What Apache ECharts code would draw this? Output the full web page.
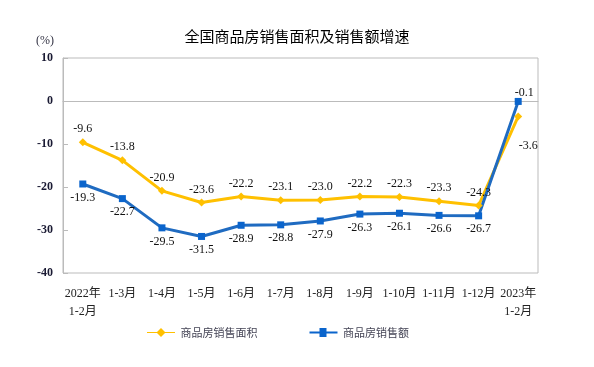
<!DOCTYPE html>
<html><head><meta charset="utf-8">
<script src="https://cdn.jsdelivr.net/npm/echarts@6/dist/echarts.min.js"></script>
<style>html,body{margin:0;padding:0;background:#fff}#c{width:594px;height:367px}</style>
</head><body><div id="c"></div>
<script>
const categories = ['2022年\n1-2月','1-3月','1-4月','1-5月','1-6月','1-7月','1-8月','1-9月','1-10月','1-11月','1-12月','2023年\n1-2月'];
const areaGrowth = [-9.6,-13.8,-20.9,-23.6,-22.2,-23.1,-23.0,-22.2,-22.3,-23.3,-24.3,-3.6];
const salesGrowth = [-19.3,-22.7,-29.5,-31.5,-28.9,-28.8,-27.9,-26.3,-26.1,-26.6,-26.7,-0.1];
const yTicks = [10,0,-10,-20,-30,-40];

const chart = echarts.init(document.getElementById('c'));
const numFont = '"Liberation Serif", "Times New Roman", serif';
const cjk = '"Noto Sans CJK SC", sans-serif';
chart.setOption({
  animation:false,
  title:{text:'全国商品房销售面积及销售额增速',left:'center',top:24,
    textStyle:{fontFamily:cjk,fontSize:15,fontWeight:'normal',color:'#000'}},
  graphic:[{type:'text',left:36,top:35,style:{text:'(%)',font:'12px '+numFont,fill:'#334'}}],
  legend:{top:322,left:142,itemGap:52,itemWidth:29,itemHeight:9,
    textStyle:{fontFamily:cjk,fontSize:11,color:'#445'},
    data:[{name:'商品房销售面积',icon:'path://M0,4 L10,4 L14,0 L18,4 L28,4 L28,5 L18,5 L14,9 L10,5 L0,5 Z'},
          {name:'商品房销售额',icon:'path://M0,3.5 L10,3.5 L10,0 L17,0 L17,3.5 L28,3.5 L28,5.5 L17,5.5 L17,9 L10,9 L10,5.5 L0,5.5 Z'}]},
  grid:{left:63,right:56,top:58,bottom:94,show:true,borderColor:'#bbb',borderWidth:1},
  xAxis:{type:'category',data:categories,boundaryGap:true,
    axisLine:{lineStyle:{color:'#bbb'}},
    axisTick:{inside:true,length:6,lineStyle:{color:'#bbb'}},
    axisLabel:{fontFamily:numFont+','+cjk,fontSize:12,color:'#222',interval:0,margin:12,lineHeight:18}},
  yAxis:{type:'value',min:-40,max:10,interval:10,
    axisLine:{show:true,lineStyle:{color:'#bbb'}},
    axisTick:{show:true,inside:true,length:5,lineStyle:{color:'#bbb'}},
    splitLine:{show:false},
    axisLabel:{fontFamily:numFont,fontSize:12,fontWeight:'bold',color:'#1a1a33',margin:10}},
  series:[
    {name:'商品房销售面积',type:'line',data:areaGrowth,color:'#FFC000',
     lineStyle:{width:3,color:'#FFC000'},symbol:'diamond',symbolSize:8,
     itemStyle:{color:'#FFC000'},
     label:{show:true,position:'top',distance:3,fontFamily:numFont,fontSize:12,color:'#111',
       formatter:p=>p.value.toFixed(1)},
     labelLayout:p=>p.dataIndex===11?{dx:10,dy:42}:{}},
    {name:'商品房销售额',type:'line',data:salesGrowth,color:'#1F6FC5',
     lineStyle:{width:3,color:'#1F6BC1'},symbol:'rect',symbolSize:7,
     itemStyle:{color:'#0A64CC'},
     label:{show:true,position:'bottom',distance:4,fontFamily:numFont,fontSize:12,color:'#111',
       formatter:p=>p.value.toFixed(1)},
     labelLayout:p=>p.dataIndex===11?{dx:6,dy:-22}:{}}
  ]
});
</script></body></html>
